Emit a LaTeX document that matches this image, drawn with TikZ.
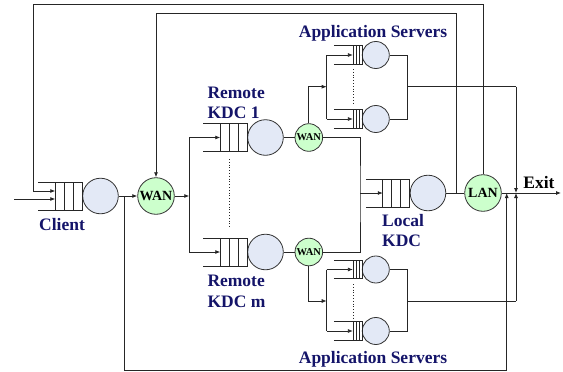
\documentclass[tikz,border=0pt]{standalone}
\usepackage{fontspec}
\setmainfont{Liberation Serif}
\usetikzlibrary{arrows.meta,calc}
\definecolor{navy}{RGB}{20,20,105}
\definecolor{srvfill}{RGB}{227,233,246}
\definecolor{netfill}{RGB}{204,255,204}
\tikzset{
  ln/.style={line width=0.8pt,draw=black!85},
  arr/.style={ln,-{Latex[length=5pt,width=4pt]}},
  srv/.style={circle,draw=black!80,line width=0.8pt,fill=srvfill,inner sep=0pt},
  bigsrv/.style={srv,minimum size=35.6pt},
  smallsrv/.style={srv,minimum size=27pt},
  net/.style={circle,draw=black!80,line width=0.8pt,fill=netfill,inner sep=0pt,font=\bfseries},
  bignet/.style={net,minimum size=36.6pt,font=\bfseries\fontsize{14}{14}\selectfont},
  smallnet/.style={net,minimum size=27.6pt,font=\bfseries\fontsize{10.5}{10.5}\selectfont},
  lbl/.style={text=navy,font=\bfseries\fontsize{17.5}{20.5}\selectfont,inner sep=0pt},
  bigqueue/.pic={
    \draw[ln] (-44,-14) -- (0,-14) (-44,14) -- (0,14);
    \draw[ln] (-27,-14) rectangle (0,14) (-18,-14) -- (-18,14) (-9,-14) -- (-9,14);
    \coordinate (-in) at (-27,0);
  },
  smallqueue/.pic={
    \draw[ln] (-28,-9.2) -- (0,-9.2) (-28,9.2) -- (0,9.2);
    \draw[ln] (-9,-9.2) rectangle (0,9.2) (-6,-9.2) -- (-6,9.2) (-3,-9.2) -- (-3,9.2);
    \coordinate (-in) at (-9,0);
  }
}
\begin{document}
\begin{tikzpicture}[x=1pt,y=-1pt]
\useasboundingbox (0,0) rectangle (563,372);
% servers and networks
\node[bigsrv] (cl) at (100.5,196) {};
\node[bignet] (wan1) at (156,196) {WAN};
\node[bigsrv] (k1) at (265.5,137.5) {};
\node[bigsrv] (km) at (265.5,252) {};
\node[smallnet] (w1) at (308.8,137.5) {WAN};
\node[smallnet] (w2) at (308.8,252) {WAN};
\node[bigsrv] (lk) at (428,193) {};
\node[bignet] (lan) at (483,193) {LAN};
\node[smallsrv] (a1) at (375.8,55) {};
\node[smallsrv] (a2) at (375.8,119) {};
\node[smallsrv] (b1) at (375.8,269.5) {};
\node[smallsrv] (b2) at (375.8,331) {};
% queues
\pic (clq) at (cl.west) {bigqueue};
\pic (k1q) at (k1.west) {bigqueue};
\pic (kmq) at (km.west) {bigqueue};
\pic (lkq) at (lk.west) {bigqueue};
\pic (a1q) at (a1.west) {smallqueue};
\pic (a2q) at (a2.west) {smallqueue};
\pic (b1q) at (b1.west) {smallqueue};
\pic (b2q) at (b2.west) {smallqueue};
% labels
\node[lbl] (lclient) at (62,225) {Client};
\node[lbl,anchor=west,align=left] (lrk1) at (207.3,103) {Remote\\KDC 1};
\node[lbl,anchor=west,align=left] (lrkm) at (207.3,291.5) {Remote\\KDC m};
\node[lbl,anchor=west,align=left] (llk) at (382,230.5) {Local\\KDC};
\node[lbl] (lapp1) at (373,33) {Application Servers};
\node[lbl] (lapp2) at (373,359) {Application Servers};
\node[font=\bfseries\fontsize{17.5}{20}\selectfont,inner sep=0pt] (lexit) at (539,183) {Exit};
% coordinates
\coordinate (entry) at (14,199);
\coordinate (o1) at (33.3,4.7);
\coordinate (o2) at (156,13.7);
\coordinate (j1) at (124,196);
\coordinate (j2) at (456,193);
\coordinate (f1) at (189.3,196);
\coordinate (rv) at (360,193);
\coordinate (exitpt) at (561,193);
\coordinate (tf) at (326.7,86.7);
\coordinate (tm) at (407.7,86.7);
\coordinate (tx) at (516,86.7);
\coordinate (bf) at (326.7,301);
\coordinate (bm) at (407.7,301);
\coordinate (bx) at (516,301);
\coordinate (b0) at (506.7,370);
% client input
\draw[arr] (entry) -- (entry -| clq-in);
\draw[arr] (lan.north) |- (o1) |- ($(clq-in)+(0,-5)$);
\draw[arr] (j2) |- (o2) -- (wan1.north);
\draw[arr] (cl) -- (wan1);
% to remote KDCs
\draw[arr] (wan1) -- (f1);
\draw[ln] (f1 |- k1) -- (f1 |- km);
\draw[arr] (f1 |- k1) -- (k1q-in);
\draw[arr] (f1 |- km) -- (kmq-in);
\draw[ln] (k1) -- (w1);
\draw[ln] (km) -- (w2);
\draw[ln] (w1) -| (rv) |- (w2);
\draw[arr] (rv) -- (lkq-in);
\draw[ln] (lk) -- (lan);
\draw[arr] (lan) -- (exitpt);
% top application servers
\draw[arr] (w1) |- (tf);
\draw[ln] (tf |- a1) -- (tf |- a2);
\draw[arr] (tf |- a1) -- (a1q-in);
\draw[arr] (tf |- a2) -- (a2q-in);
\draw[ln] (a1) -| (tm) |- (a2);
\draw[ln] (tm) -- (tx);
\draw[arr] (tx) -- (tx |- exitpt);
% bottom application servers
\draw[arr] (w2) |- (bf);
\draw[ln] (bf |- b1) -- (bf |- b2);
\draw[arr] (bf |- b1) -- (b1q-in);
\draw[arr] (bf |- b2) -- (b2q-in);
\draw[ln] (b1) -| (bm) |- (b2);
\draw[ln] (bm) -- (bx);
\draw[arr] (bx) -- (bx |- exitpt);
% bottom loop
\draw[arr] (j1) |- (b0) -- (b0 |- exitpt);
% dotted
\draw[ln,dotted,line width=1pt] (229.5,159) -- (229.5,227);
\draw[ln,dotted,line width=1pt] (353,69) -- (353,105);
\draw[ln,dotted,line width=1pt] (353,284) -- (353,319);
\end{tikzpicture}
\end{document}
